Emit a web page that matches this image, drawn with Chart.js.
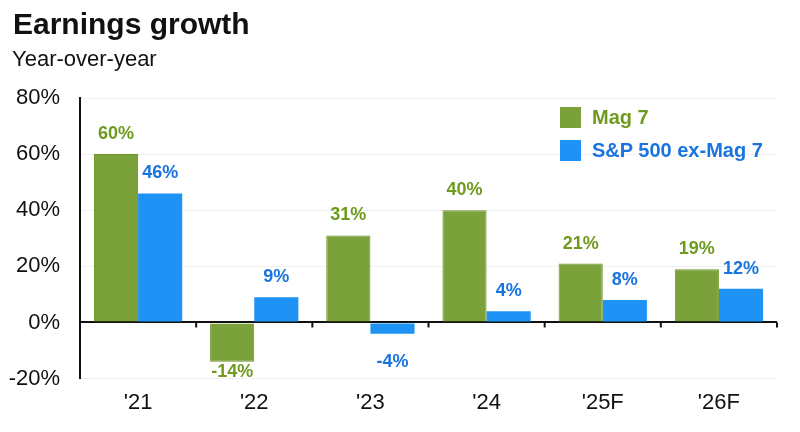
<!DOCTYPE html>
<html>
<head>
<meta charset="utf-8">
<script src="https://cdn.jsdelivr.net/npm/chart.js@4.4.1/dist/chart.umd.min.js"></script>
<style>
  html, body { margin: 0; padding: 0; background: #fff; }
  #wrap { position: relative; width: 800px; height: 432px; font-family: "Liberation Sans", Arial, sans-serif; color: #111; }
  canvas { display: block; }
  #title { position: absolute; left: 13px; top: 9px; font-size: 30px; line-height: 30px; font-weight: bold; }
  #subtitle { position: absolute; left: 12px; top: 48px; font-size: 22px; line-height: 22px; }
  #legend { position: absolute; left: 560px; top: 101px; font-weight: bold; font-size: 20px; }
  .item { display: flex; align-items: center; height: 33px; }
  .box { width: 21px; height: 21px; margin-right: 11px; }
</style>
</head>
<body>
<div id="wrap">
  <canvas id="earningsChart" width="800" height="432"></canvas>
  <div id="title">Earnings growth</div>
  <div id="subtitle">Year-over-year</div>
  <div id="legend">
    <div class="item" style="color:#6e9a1e"><span class="box" style="background:#7ba23a"></span>Mag 7</div>
    <div class="item" style="color:#1a74e0"><span class="box" style="background:#1f93f5"></span>S&amp;P 500 ex-Mag 7</div>
  </div>
</div>
<script>
var years = ["'21", "'22", "'23", "'24", "'25F", "'26F"];
var mag7 = [60, -14, 31, 40, 21, 19];
var spExMag7 = [46, 9, -4, 4, 8, 12];
var yTicks = [-20, 0, 20, 40, 60, 80];

var fontFamily = '"Liberation Sans", Arial, sans-serif';

// value labels above / below each bar
var barLabels = {
    id: 'barLabels',
    afterDatasetsDraw: function(chart) {
        var ctx = chart.ctx;
        var zeroY = chart.scales.y.getPixelForValue(0);
        ctx.save();
        ctx.font = 'bold 18px ' + fontFamily;
        ctx.textAlign = 'center';
        ctx.textBaseline = 'middle';
        chart.data.datasets.forEach(function(ds, i) {
            var meta = chart.getDatasetMeta(i);
            ctx.fillStyle = ds.labelColor;
            meta.data.forEach(function(bar, j) {
                var v = ds.data[j];
                var y = v >= 0 ? bar.y - 20 : Math.max(bar.y + 10, zeroY + 40);
                ctx.fillText(v + '%', bar.x, y);
            });
        });
        ctx.restore();
    }
};

// small tick marks on the zero line between categories
var zeroTicks = {
    id: 'zeroTicks',
    afterDatasetsDraw: function(chart) {
        var ctx = chart.ctx;
        var x = chart.scales.x;
        var zeroY = chart.scales.y.getPixelForValue(0);
        var step = x.getPixelForValue(1) - x.getPixelForValue(0);
        ctx.save();
        ctx.strokeStyle = '#111';
        ctx.lineWidth = 2;
        for (var i = 0; i < years.length; i++) {
            var px = x.getPixelForValue(i) + step / 2;
            ctx.beginPath();
            ctx.moveTo(px, zeroY);
            ctx.lineTo(px, zeroY + 5);
            ctx.stroke();
        }
        ctx.restore();
    }
};

var ctx = document.getElementById('earningsChart').getContext('2d');
var earningsChart = new Chart(ctx, {
    type: 'bar',
    data: {
        labels: years,
        datasets: [
            {
                label: 'Mag 7',
                data: mag7,
                backgroundColor: '#7ba23a',
                borderColor: '#6b9224',
                borderWidth: 1,
                labelColor: '#6e9a1e'
            },
            {
                label: 'S&P 500 ex-Mag 7',
                data: spExMag7,
                backgroundColor: '#1f93f5',
                borderWidth: 0,
                labelColor: '#1a74e0'
            }
        ]
    },
    options: {
        responsive: false,
        animation: false,
        layout: { padding: { left: 9, top: 98, right: 23, bottom: 5 } },
        datasets: { bar: { categoryPercentage: 0.76, barPercentage: 1.0 } },
        plugins: {
            legend: { display: false },
            tooltip: { enabled: false }
        },
        scales: {
            x: {
                grid: { display: false, drawTicks: false },
                border: { display: false },
                ticks: {
                    color: '#111',
                    font: { family: fontFamily, size: 22 },
                    padding: 11
                }
            },
            y: {
                min: -20,
                max: 80,
                afterBuildTicks: function(axis) {
                    axis.ticks = yTicks.map(function(v) { return { value: v }; });
                },
                afterFit: function(axis) { axis.width = 71; },
                grid: {
                    drawTicks: false,
                    color: function(c) { return c.tick && c.tick.value === 0 ? '#111' : '#f0f0f0'; },
                    lineWidth: function(c) { return c.tick && c.tick.value === 0 ? 2 : 1; }
                },
                border: { display: true, color: '#111', width: 2 },
                ticks: {
                    color: '#111',
                    font: { family: fontFamily, size: 22 },
                    padding: 20,
                    callback: function(v) { return v + '%'; }
                }
            }
        }
    },
    plugins: [barLabels, zeroTicks]
});
</script>
</body>
</html>
